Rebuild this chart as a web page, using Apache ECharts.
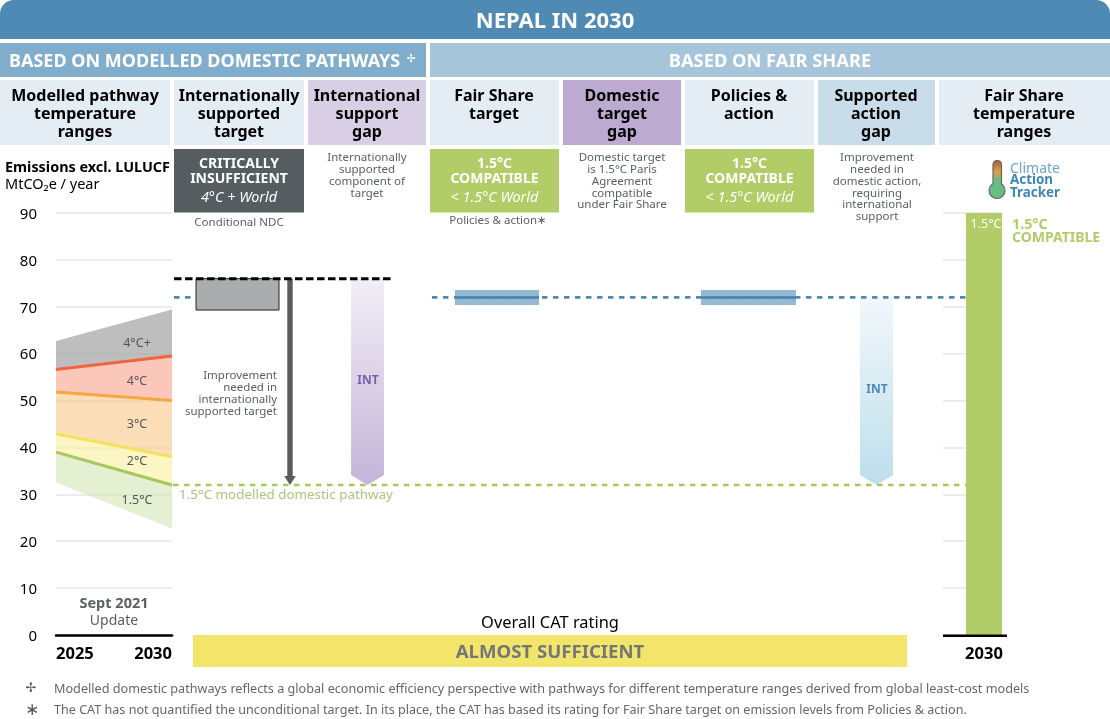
<!DOCTYPE html>
<html><head><meta charset="utf-8">
<style>html,body{margin:0;padding:0;background:#fff}#c{width:1110px;height:719px}</style>
<script src="https://cdn.jsdelivr.net/npm/echarts@6/dist/echarts.min.js"></script>
</head><body><div id="c"></div>
<script>
// ---------- data (MtCO2e / year) ----------
const years = [2025, 2030];
const band4plusTop = [62.7, 69.4];
const line4C = [56.6, 59.5];
const line3C = [51.8, 50.0];
const line2C = [42.9, 38.0];
const line15C = [39.0, 32.0];
const band15Bottom = [32.5, 22.7];
const targetLevel = 76;
const targetRange = [69.3, 76];
const fairShareLevel = 72;
const fairShareRange = [70.4, 73.6];
const policiesRange = [70.4, 73.6];
const pathwayLevel = 32;
const fairShareBar = [90];
const fairShareCat = ['2030'];

// ---------- style & layout ----------
const F = '"Noto Sans", "DejaVu Sans", sans-serif';
const gridTop = 213, H = 422;
const Xs = {grey:[0.18,0.828], arrow:0.914, intGap:[1.391,1.648], fs:[2.203,2.859], pol:[4.125,4.867], sup:[5.367,5.625],
  black:[0.008,1.719], blueL:[0.008,0.148], blueR:[2.023,6.195], green:[0,6.195]};

function T(text,x,y,o={}){return {type:'text',silent:true,z:o.z||10,style:{text,x,y:y+1,fill:o.c||'#000',align:o.a||'center',verticalAlign:'middle',
  font:`${o.i?'italic ':''}${o.b?'bold':'normal'} ${o.s||13}px ${F}`}}}
function R(x,y,w,h,c,r){return {type:'rect',silent:true,z:1,shape:{x,y,width:w,height:h,r:r||0},style:{fill:c}}}
const hdr='#e4ecf4', green='#b2cc68', grey='#5a6063';
const g=[
 R(0,0,1110,39,'#4e8ab3',[14,14,0,0]),
 T('NEPAL IN 2030',555,20.5,{b:1,s:22,c:'#fff'}),
 R(0,43,426,34,'#7fadcb'), R(430,43,680,34,'#a6c5da'),
 T('BASED ON MODELLED DOMESTIC PATHWAYS',9,61,{b:1,s:18,c:'#fff',a:'left'}),
 T('\u2722',411,58,{s:11,c:'#fff'}),
 T('BASED ON FAIR SHARE',770,61,{b:1,s:18.3,c:'#fff'}),
 R(0,80,170,65,hdr),R(174,80,130,65,hdr),R(308,80,118,65,'#d8cfe5'),R(430,80,129,65,hdr),
 R(563,80,118,65,'#bcaad0'),R(685,80,129,65,hdr),R(818,80,117,65,'#c8dcea'),R(939,80,171,65,hdr),
];
function hd(lines,cx){lines.forEach((l,i)=>g.push(T(l,cx,95+i*18,{b:1,s:16})))}
hd(['Modelled pathway','temperature','ranges'],85);
hd(['Internationally','supported','target'],239);
hd(['International','support','gap'],367);
hd(['Fair Share','target'],494);
hd(['Domestic','target','gap'],622);
hd(['Policies &','action'],749);
hd(['Supported','action','gap'],876);
hd(['Fair Share','temperature','ranges'],1024);
function rate(x,w,c,l1,l2,l3){const cx=x+w/2;g.push(R(x,149,w,63.5,c),T(l1,cx,163,{b:1,s:14,c:'#fff'}),T(l2,cx,178,{b:1,s:14,c:'#fff'}),T(l3,cx,197,{i:1,s:14.4,c:'#fff'}))}
rate(174,130,'#565d60','CRITICALLY','INSUFFICIENT','4\u00B0C + World');
rate(430,129,green,'1.5\u00B0C','COMPATIBLE','< 1.5\u00B0C World');
rate(685,129,green,'1.5\u00B0C','COMPATIBLE','< 1.5\u00B0C World');
function small(lines,cx,y0,lh,o={}){lines.forEach((l,i)=>g.push(T(l,cx,y0+i*lh,Object.assign({s:11.5,c:grey},o))))}
small(['Internationally','supported','component of','target'],367,157,11.8);
small(['Domestic target','is 1.5\u00B0C Paris','Agreement','compatible','under Fair Share'],622,157,11.8);
small(['Improvement','needed in','domestic action,','requiring','international','support'],877,157,11.8);
small(['Conditional NDC'],239,222,0);
small(['Policies & action\u2217'],498,220,0);
small(['Improvement','needed in','internationally','supported target'],277,375,12,{a:'right'});
g.push(
 T('Emissions excl. LULUCF',5,167,{b:1,s:14.4,a:'left'}),
 T('MtCO\u2082e / year',5,184,{s:14.5,a:'left'}),
 T('4\u00B0C+',137,342,{s:12.5,c:'#555'}),T('4\u00B0C',137,380,{s:12.5,c:'#555'}),T('3\u00B0C',137,423,{s:12.5,c:'#555'}),
 T('2\u00B0C',137,460,{s:12.5,c:'#555'}),T('1.5\u00B0C',137,499,{s:12.5,c:'#555'}),
 T('INT',368,380,{b:1,s:12,c:'#7b5ea7'}),T('INT',877,389,{b:1,s:12,c:'#4e8ab3'}),
 T('1.5\u00B0C modelled domestic pathway',179,494,{s:13.4,c:'#a9c77a',a:'left'}),
 T('Sept 2021',114,603,{b:1,s:14.5,c:grey}),T('Update',114,620,{s:14,c:grey}),
 T('Overall CAT rating',550,622,{s:16.4}),
 R(193,635,714,32,'#f3e569'),
 T('ALMOST SUFFICIENT',550,652,{b:1,s:18.6,c:'#73777a'}),
 T('1.5\u00B0C',986,223,{s:12.5,c:'#fff'}),
 T('1.5\u00B0C',1012,224,{b:1,s:14.3,c:green,a:'left'}),T('COMPATIBLE',1012,237.5,{b:1,s:14,c:green,a:'left'}),
 T('\u2722',31,687,{s:13,c:'#555'}),
 T('Modelled domestic pathways reflects a global economic efficiency perspective with pathways for different temperature ranges derived from global least-cost models',54,688,{s:12.65,c:'#666',a:'left'}),
 T('\u2217',32,709,{s:17,c:'#555'}),
 T('The CAT has not quantified the unconditional target. In its place, the CAT has based its rating for Fair Share target on emission levels from Policies & action.',54,709,{s:12.58,c:'#666',a:'left'}),
 // logo
 {type:'rect',silent:true,z:5,shape:{x:993,y:160.5,width:8.5,height:32,r:4},style:{fill:new echarts.graphic.LinearGradient(0,0,0,1,[{offset:0,color:'#a3564c'},{offset:.35,color:'#d9a048'},{offset:.7,color:'#66bd85'},{offset:1,color:'#66bd85'}]),stroke:'#666',lineWidth:1.2}},
 {type:'circle',silent:true,z:5,shape:{cx:997,cy:190.5,r:8},style:{fill:'#66bd85',stroke:'#666',lineWidth:1.2}},
 {type:'rect',silent:true,z:6,shape:{x:993.7,y:178,width:7,height:10},style:{fill:'#66bd85'}},
 T('Climate',1010,168,{s:14,c:'#6ba4cc',a:'left'}),T('Action',1010,179.5,{b:1,s:13.4,c:'#3f85b5',a:'left'}),T('Tracker',1010,192,{b:1,s:13.4,c:'#3f85b5',a:'left'}),
 {type:'rect',silent:true,z:6,shape:{x:943,y:634.5,width:64,height:2.6},style:{fill:'#000'}}
);

// ---------- helpers ----------
function band(name,upper,lower,color){return {type:'custom',name,xAxisIndex:0,yAxisIndex:0,silent:true,z:2,
  data:[[0]],renderItem:(p,api)=>({type:'polygon',shape:{points:[
    api.coord([years[0],upper[0]]),api.coord([years[1],upper[1]]),api.coord([years[1],lower[1]]),api.coord([years[0],lower[0]])]},style:{fill:color}})}}
function bline(name,vals,color){return {type:'line',name,xAxisIndex:0,yAxisIndex:0,silent:true,z:3,symbol:'none',lineStyle:{color,width:3},
  data:years.map((y,i)=>[y,vals[i]])}}
function dash(name,xr,v,color,d,w){return {type:'line',name,xAxisIndex:1,yAxisIndex:1,silent:true,z:4,symbol:'none',lineStyle:{color,width:w||2.5,type:d},
  data:[[xr[0],v],[xr[1],v]]}}
function mark(name,r){return {type:'custom',name,xAxisIndex:1,yAxisIndex:1,silent:true,z:3,data:[[0]],renderItem:(p,api)=>r(api)}}
const rectOf=(api,xr,lo,hi)=>{const a=api.coord([xr[0],hi]),b=api.coord([xr[1],lo]);return {x:a[0],y:a[1],width:b[0]-a[0],height:b[1]-a[1]}};
function chevron(name,xr,hi,lo,c0,c1){return mark(name,api=>{const a=api.coord([xr[0],hi]),b=api.coord([xr[1],lo]),m=(a[0]+b[0])/2,h=10;
  return {type:'polygon',shape:{points:[a,[b[0],a[1]],[b[0],b[1]-h],[m,b[1]],[a[0],b[1]-h]]},
   style:{fill:new echarts.graphic.LinearGradient(0,0,0,1,[{offset:0,color:c0},{offset:1,color:c1}])}}})}
function rangeBar(name,xr,range,level){return mark(name,api=>{const s=rectOf(api,xr,range[0],range[1]),y=api.coord([0,level])[1];
  return {type:'group',children:[{type:'rect',shape:s,style:{fill:'#93b9d4'}},{type:'rect',shape:{x:s.x,y:y-1.25,width:s.width,height:2.5},style:{fill:'#4480ab'}}]}})}

const series=[
 band('4C+',band4plusTop,line4C,'rgba(165,165,165,.72)'),
 band('4C',line4C,line3C,'rgba(248,165,145,.62)'),
 band('3C',line3C,line2C,'rgba(248,200,140,.62)'),
 band('2C',line2C,line15C,'rgba(248,240,160,.62)'),
 band('1.5C',line15C,band15Bottom,'rgba(210,228,175,.58)'),
 bline('l4',line4C,'#f0653f'),bline('l3',line3C,'#f5a742'),bline('l2',line2C,'#f2e25c'),bline('l15',line15C,'#a6c65e'),
 mark('target',api=>({type:'rect',shape:rectOf(api,Xs.grey,targetRange[0],targetRange[1]),style:{fill:'#a9adad',stroke:'#222',lineWidth:1}})),
 mark('arrow',api=>{const t=api.coord([Xs.arrow,targetLevel]),b=api.coord([Xs.arrow,pathwayLevel]),x=t[0];
   return {type:'polygon',shape:{points:[[x-2.7,t[1]],[x+2.7,t[1]],[x+2.7,b[1]-9],[x+5.8,b[1]-9],[x,b[1]],[x-5.8,b[1]-9],[x-2.7,b[1]-9]]},style:{fill:'#5b5b5b'}}}),
 chevron('intGap',Xs.intGap,targetLevel,pathwayLevel,'#f1eef6','#c4b4d8'),
 chevron('supGap',Xs.sup,fairShareLevel,pathwayLevel,'#f2f7fb','#bcdfeb'),
 rangeBar('fairShare',Xs.fs,fairShareRange,fairShareLevel),
 rangeBar('policies',Xs.pol,policiesRange,fairShareLevel),
 dash('blackDash',Xs.black,targetLevel,'#000',[7.5,3.5],3),
 dash('blueL',Xs.blueL,fairShareLevel,'#4e8ab3',[5.5,5.5],2.6),
 dash('blueR',Xs.blueR,fairShareLevel,'#4e8ab3',[5.5,5.5],2.6),
 dash('greenDash',Xs.green,pathwayLevel,'#a9c75a',[5.5,5.5],2.6),
 {type:'bar',name:'fairShareRange',xAxisIndex:3,yAxisIndex:3,silent:true,barWidth:'100%',data:fairShareBar,itemStyle:{color:green},z:3}
];
const split={show:true,lineStyle:{color:'#e6e6e6',width:1.5}};
const yBase={type:'value',min:0,max:90,interval:10,axisLine:{show:false},axisTick:{show:false}};
const chart=echarts.init(document.getElementById('c'),null,{renderer:'canvas'});
chart.setOption({
 animation:false,backgroundColor:'#fff',
 grid:[{left:56,top:gridTop,width:116,height:H},{left:173,top:gridTop,width:793,height:H},{left:943,top:gridTop,width:59,height:H},{left:966,top:gridTop,width:36,height:H}],
 xAxis:[
  {gridIndex:0,type:'value',min:years[0],max:years[1],interval:5,splitLine:{show:false},axisTick:{show:false},
   axisLine:{show:true,lineStyle:{color:'#000',width:2.6}},
   axisLabel:{alignMinLabel:'left',alignMaxLabel:'right',margin:11,formatter:v=>String(v),color:'#000',fontWeight:'bold',fontSize:16.5,fontFamily:F}},
  {gridIndex:1,type:'value',min:0,max:6.195,show:false},
  {gridIndex:2,type:'value',min:0,max:1,show:false},
  {gridIndex:3,type:'category',data:fairShareCat,axisTick:{show:false},axisLine:{show:false},
   axisLabel:{margin:11,color:'#000',fontWeight:'bold',fontSize:16.5,fontFamily:F}}
 ],
 yAxis:[
  Object.assign({gridIndex:0,splitLine:split,axisLabel:{margin:19,formatter:v=>`{a|${v}}`,rich:{a:{color:'#000',fontSize:15,fontFamily:F,padding:[3,0,0,0]}}}},yBase),
  Object.assign({gridIndex:1,show:false},yBase),
  Object.assign({gridIndex:2,splitLine:split,axisLabel:{show:false}},yBase),
  Object.assign({gridIndex:3,splitLine:{show:false},axisLabel:{show:false}},yBase)
 ],
 series,
 graphic:{elements:g}
});
</script></body></html>
